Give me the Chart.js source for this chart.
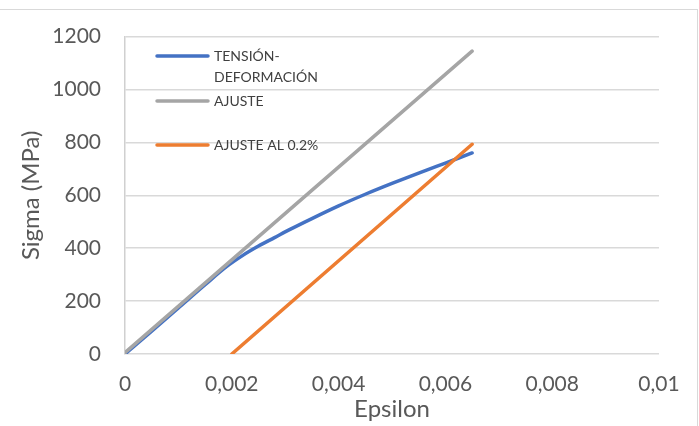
<!DOCTYPE html>
<html>
<head>
<meta charset="utf-8">
<script src="https://cdn.jsdelivr.net/npm/chart.js@4"></script>
<style>
  html, body { margin: 0; padding: 0; background: #fff; }
  #wrap { position: relative; width: 699px; height: 426px; }
</style>
</head>
<body>
<div id="wrap"><canvas id="c" width="699" height="426"></canvas></div>
<script>
// ---- data ----
const seriesNames = ['TENSIÓN-DEFORMACIÓN', 'AJUSTE', 'AJUSTE AL 0.2%'];

const tensionStrain = [0, 0.0005, 0.001, 0.0015, 0.0019, 0.0022, 0.0025, 0.0028, 0.0031, 0.0035, 0.004, 0.0045, 0.005, 0.0055, 0.006, 0.0065];
const tensionStress = [0, 86, 174, 262, 330, 372, 408, 440, 472, 512, 560, 604, 645, 684, 722, 760];

const ajusteStrain = [0, 0.0065];
const ajusteStress = [5, 1145];

const offsetStrain = [0.002, 0.0065];
const offsetStress = [0, 793];

const xTickLabels = ['0', '0,002', '0,004', '0,006', '0,008', '0,01'];
const yTickLabels = ['0', '200', '400', '600', '800', '1000', '1200'];

const colors = ['#4472C4', '#A5A5A5', '#ED7D31'];

function pts(xs, ys) { return xs.map((x, i) => ({ x: x, y: ys[i] })); }

const FONT = 'Lato, "Open Sans", sans-serif';

const frame = {
  id: 'frame',
  beforeDraw(chart) {
    const ctx = chart.ctx;
    ctx.save();
    ctx.fillStyle = '#fff';
    ctx.fillRect(0, 0, chart.width, chart.height);
    ctx.strokeStyle = '#d9d9d9';
    ctx.lineWidth = 1;
    ctx.strokeRect(-5, 9.5, 702.5, 440);
    ctx.restore();
  }
};

const legendBox = {
  id: 'legendBox',
  afterDraw(chart) {
    const ctx = chart.ctx;
    const rows = [
      { lines: ['TENSIÓN-', 'DEFORMACIÓN'], y: 56 },
      { lines: ['AJUSTE'], y: 101 },
      { lines: ['AJUSTE AL 0.2%'], y: 145 }
    ];
    ctx.save();
    ctx.font = '14px ' + FONT;
    ctx.textBaseline = 'middle';
    ctx.textAlign = 'left';
    chart.data.datasets.forEach((ds, i) => {
      const r = rows[i];
      ctx.strokeStyle = ds.borderColor;
      ctx.lineWidth = 3.5;
      ctx.lineCap = 'round';
      ctx.beginPath();
      ctx.moveTo(157, r.y);
      ctx.lineTo(208, r.y);
      ctx.stroke();
      ctx.fillStyle = '#404040';
      r.lines.forEach((t, k) => ctx.fillText(t, 214, r.y + k * 21));
    });
    ctx.restore();
  }
};

new Chart(document.getElementById('c'), {
  type: 'scatter',
  data: {
    datasets: [
      { label: seriesNames[0], data: pts(tensionStrain, tensionStress), showLine: true,
        borderColor: colors[0], backgroundColor: colors[0], borderWidth: 3.5,
        pointRadius: 0, cubicInterpolationMode: 'monotone', borderCapStyle: 'round', order: 3 },
      { label: seriesNames[1], data: pts(ajusteStrain, ajusteStress), showLine: true,
        borderColor: colors[1], backgroundColor: colors[1], borderWidth: 3.5,
        pointRadius: 0, borderCapStyle: 'round', order: 2 },
      { label: seriesNames[2], data: pts(offsetStrain, offsetStress), showLine: true,
        borderColor: colors[2], backgroundColor: colors[2], borderWidth: 3.5,
        pointRadius: 0, borderCapStyle: 'round', order: 1 }
    ]
  },
  options: {
    responsive: false,
    animation: false,
    events: [],
    layout: { padding: { left: 0, top: 34, right: 40, bottom: 0 } },
    plugins: { legend: { display: false }, tooltip: { enabled: false } },
    scales: {
      x: {
        type: 'linear', min: 0, max: 0.01,
        afterFit(s) { s.height = 72; },
        afterBuildTicks(s) { s.ticks = xTickLabels.map((_, i) => ({ value: i * 0.002 })); },
        grid: { display: false, drawTicks: false },
        border: { display: false },
        ticks: { padding: 18, color: '#595959', font: { family: FONT, size: 21 },
                 maxRotation: 0, autoSkip: false,
                 callback: (v, i) => xTickLabels[i] },
        title: { display: true, text: 'Epsilon', color: '#595959',
                 font: { family: FONT, size: 24 }, padding: { top: 0, bottom: 2 } }
      },
      y: {
        type: 'linear', min: 0, max: 1200,
        afterFit(s) { s.width = 125; },
        afterBuildTicks(s) { s.ticks = yTickLabels.map((_, i) => ({ value: i * 200 })); },
        grid: { color: '#d9d9d9', lineWidth: 1.5, drawTicks: false },
        border: { display: true, color: '#d0d0d0', width: 1.5 },
        ticks: { padding: 24, color: '#595959', font: { family: FONT, size: 21 },
                 autoSkip: false, callback: (v, i) => yTickLabels[i] },
        title: { display: true, text: 'Sigma (MPa)', color: '#595959',
                 font: { family: FONT, size: 24 }, padding: { top: 17, bottom: 0 } }
      }
    }
  },
  plugins: [frame, legendBox]
});
</script>
</body>
</html>
